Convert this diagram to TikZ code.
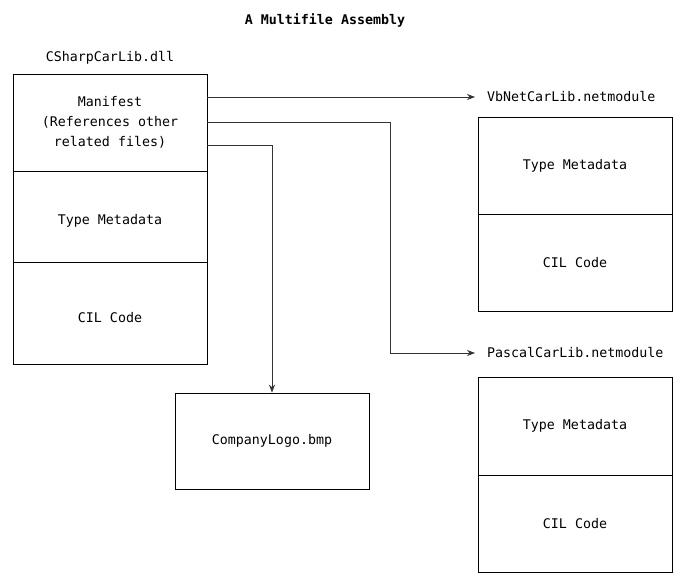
\documentclass[tikz,border=0pt]{standalone}
\usepackage{fontspec}
\setmonofont{DejaVu Sans Mono}
\usetikzlibrary{arrows.meta}
\begin{document}
\begin{tikzpicture}[
				x=1pt, y=-1pt,
				every node/.style={font=\ttfamily\fontsize{13.3}{20}\selectfont, inner sep=0pt},
				part/.style={draw=black, line width=0.8pt, minimum width=194pt, align=center},
				modlabel/.style={anchor=west},
				conn/.style={draw=black!80, line width=0.7pt, -{Stealth[length=8pt,width=6pt]}}
				]
			\useasboundingbox (0,0) rectangle (686,580);
			\node [font=\ttfamily\bfseries\fontsize{13.3}{20}\selectfont] (title) at (325,20) {A Multifile Assembly};
			% main module
			\node (csharp) at (110,58) {CSharpCarLib.dll};
			\node [part, minimum height=97pt] (manifest) at (110,122.5) {Manifest\\(References other\\related files)};
			\node [part, minimum height=91pt, text height=19pt] (meta) at (110,216.5) {Type Metadata};
			\node [part, minimum height=102pt, text height=19pt] (cil) at (110,313) {CIL Code};
			% first netmodule
			\node [modlabel] (vb) at (487,97) {VbNetCarLib.netmodule};
			\node [part, minimum height=97pt] (vbmeta) at (575,165.5) {Type Metadata};
			\node [part, minimum height=97pt] (vbcil) at (575,262.5) {CIL Code};
			% second netmodule
			\node [modlabel] (pascal) at (487,353) {PascalCarLib.netmodule};
			\node [part, minimum height=98pt] (pasmeta) at (575,426) {Type Metadata};
			\node [part, minimum height=97pt] (pascil) at (575,523.5) {CIL Code};
			% resource file
			\node [part, minimum height=96pt] (logo) at (272,441) {CompanyLogo.bmp};
			\coordinate (turn) at (390,353);
			\draw [conn] (manifest.east |- vb.west) -- ([xshift=-12pt]vb.west);
			\draw [conn] (manifest.east) -| (turn) -- ([xshift=-12pt]pascal.west);
			\draw [conn] ([yshift=-22.5pt]manifest.east) -| (logo.north);
			\end{tikzpicture}
\end{document}
